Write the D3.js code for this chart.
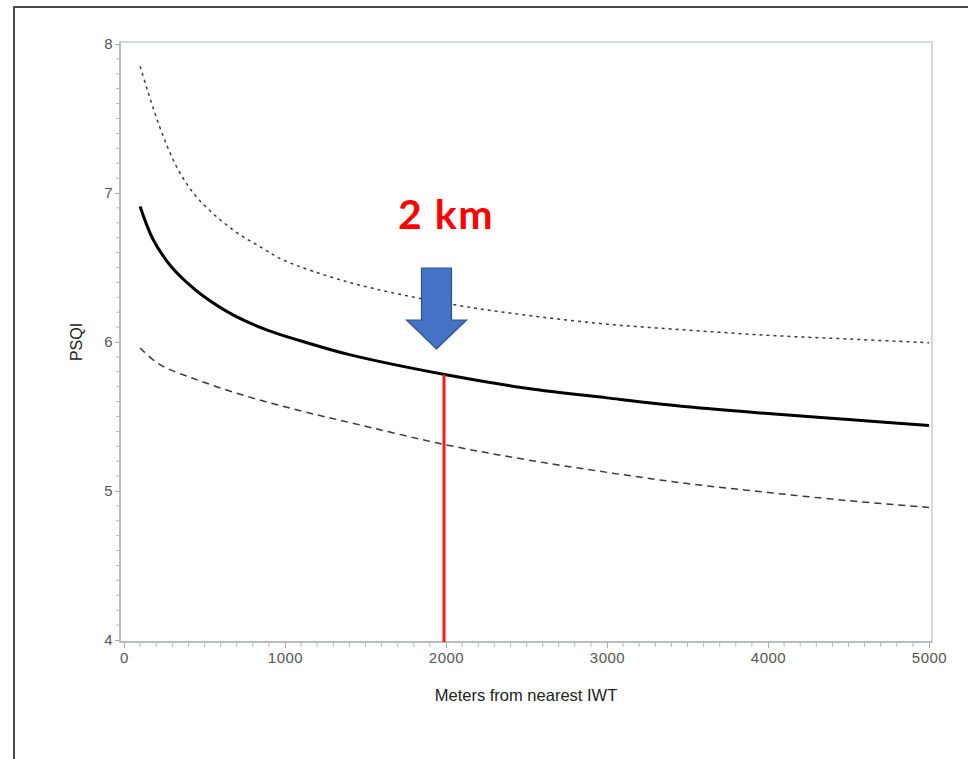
<!DOCTYPE html>
<html>
<head>
<meta charset="utf-8">
<script src="https://cdn.jsdelivr.net/npm/d3@7"></script>
<style>
  body { margin: 0; background: #fff; }
  text { font-family: "Liberation Sans", Arial, sans-serif; }
</style>
</head>
<body>
<svg id="chart" width="968" height="759"></svg>
<script>

// distances (m) and PSQI readings for the fitted curve and its bounds
var mid_dist = [100, 180, 290, 390, 490, 680, 890, 1090, 1400, 2000, 2500, 3000, 3500, 4000, 4500, 5000]
var mid_psqi = [6.91, 6.69, 6.51, 6.40, 6.31, 6.18, 6.08, 6.01, 5.915, 5.78, 5.69, 5.625, 5.565, 5.52, 5.48, 5.44]

var upper_dist = [100, 140, 200, 270, 350, 470, 680, 860, 990, 1400, 2000, 2500, 3000, 3500, 4000, 4500, 5000]
var upper_psqi = [7.85, 7.71, 7.51, 7.31, 7.13, 6.95, 6.75, 6.63, 6.55, 6.40, 6.26, 6.18, 6.12, 6.08, 6.045, 6.02, 5.995]

var lower_dist = [100, 220, 470, 780, 1090, 1400, 2000, 2500, 3000, 3500, 4000, 4500, 5000]
var lower_psqi = [5.96, 5.85, 5.74, 5.63, 5.54, 5.46, 5.31, 5.21, 5.125, 5.05, 4.99, 4.935, 4.89]

var x_ticks = [0, 1000, 2000, 3000, 4000, 5000]
var y_ticks = [4, 5, 6, 7, 8]
var marker_dist = 2000
var marker_label = "2 km"

var svg = d3.select("#chart")

var x = d3.scaleLinear().domain([0, 5000]).range([124, 929])
var y = d3.scaleLinear().domain([4, 8]).range([640, 44])

// outer border (top + left only)
svg.append("path")
  .attr("fill", "none")
  .attr("stroke", "#4a4a4a")
  .attr("stroke-width", 2)
  .attr("d", "M14,759V7H968")

// plot frame
svg.append("rect")
  .attr("x", 120).attr("y", 42)
  .attr("width", 812).attr("height", 600)
  .attr("fill", "none")
  .attr("stroke", "#c9cdcd")
  .attr("stroke-width", 1.5)

// y axis, major + minor ticks
var yAxis = d3.axisLeft(y).tickValues(y_ticks).tickSize(5).tickFormat(d3.format("d"))
var gy = svg.append("g").attr("transform", "translate(120,0)").call(yAxis)
svg.append("g").attr("class", "yminor")
  .selectAll("line")
  .data(d3.range(40, 81).filter(function(d){ return d % 10 != 0 }).map(function(d){ return d / 10 }))
  .join("line")
    .attr("x1", 116).attr("x2", 120)
    .attr("y1", function(d){ return y(d) }).attr("y2", function(d){ return y(d) })
    .attr("stroke", "#b4b8b8")

// x axis, major + minor ticks
var xAxis = d3.axisBottom(x).tickValues(x_ticks).tickSize(6).tickFormat(d3.format("d"))
var gx = svg.append("g").attr("transform", "translate(0,642)").call(xAxis)
svg.append("g").attr("class", "xminor")
  .selectAll("line")
  .data(d3.range(0, 5001, 100).filter(function(d){ return d % 1000 != 0 }))
  .join("line")
    .attr("x1", function(d){ return x(d) }).attr("x2", function(d){ return x(d) })
    .attr("y1", 642).attr("y2", 647)
    .attr("stroke", "#b4b8b8")

;[gx, gy].forEach(function(g){
  g.select(".domain").remove()
  g.selectAll(".tick line").attr("stroke", "#a8acac")
  g.selectAll(".tick text")
    .attr("fill", "#555")
    .style("font-size", "15px")
    .style("letter-spacing", "0.5px")
    .style("font-family", "'Liberation Sans', Arial, sans-serif")
})
gy.selectAll(".tick text").attr("x", -7)
gx.selectAll(".tick text").attr("y", 10)

// axis lines
svg.append("path")
  .attr("fill", "none")
  .attr("stroke", "#b0b4b4")
  .attr("stroke-width", 1.5)
  .attr("d", "M120,42V642H932")

// axis titles
svg.append("text")
  .attr("transform", "translate(82,342) rotate(-90)")
  .attr("text-anchor", "middle")
  .attr("fill", "#222")
  .style("font-size", "16px")
  .text("PSQI")

svg.append("text")
  .attr("x", 526).attr("y", 701)
  .attr("text-anchor", "middle")
  .attr("fill", "#222")
  .style("font-size", "16.5px")
  .text("Meters from nearest IWT")

// curves
var line = d3.line()
  .x(function(d){ return x(d[0]) })
  .y(function(d){ return y(d[1]) })
  .curve(d3.curveCatmullRom)

svg.append("path")
  .datum(d3.zip(upper_dist, upper_psqi))
  .attr("fill", "none")
  .attr("stroke", "#3a3a3a")
  .attr("stroke-width", 1.5)
  .attr("stroke-dasharray", "3,4")
  .attr("d", line)

svg.append("path")
  .datum(d3.zip(lower_dist, lower_psqi))
  .attr("fill", "none")
  .attr("stroke", "#3a3a3a")
  .attr("stroke-width", 1.5)
  .attr("stroke-dasharray", "7,5")
  .attr("d", line)

svg.append("path")
  .datum(d3.zip(mid_dist, mid_psqi))
  .attr("fill", "none")
  .attr("stroke", "#000")
  .attr("stroke-width", 3)
  .attr("d", line)

// 2 km marker
var mx = x(marker_dist)
var my = y(mid_psqi[mid_dist.indexOf(marker_dist)])

svg.append("line")
  .attr("x1", mx - 2).attr("x2", mx - 2)
  .attr("y1", 642).attr("y2", my)
  .attr("stroke", "#ff1a1a")
  .attr("stroke-width", 3)

var ax = mx - 9.5
svg.append("path")
  .attr("fill", "#4472c4")
  .attr("stroke", "#2f528f")
  .attr("stroke-width", 1.2)
  .attr("d", "M" + (ax - 15) + ",268H" + (ax + 15) + "V320H" + (ax + 30) +
             "L" + ax + ",349L" + (ax - 30) + ",320H" + (ax - 15) + "Z")

svg.append("text")
  .attr("x", mx).attr("y", 229)
  .attr("text-anchor", "middle")
  .attr("fill", "#ff0000")
  .style("font-family", "Lato, 'Open Sans', sans-serif")
  .style("font-weight", "bold")
  .style("font-size", "41px")
  .style("letter-spacing", "1.5px")
  .text(marker_label)

</script>
</body>
</html>
